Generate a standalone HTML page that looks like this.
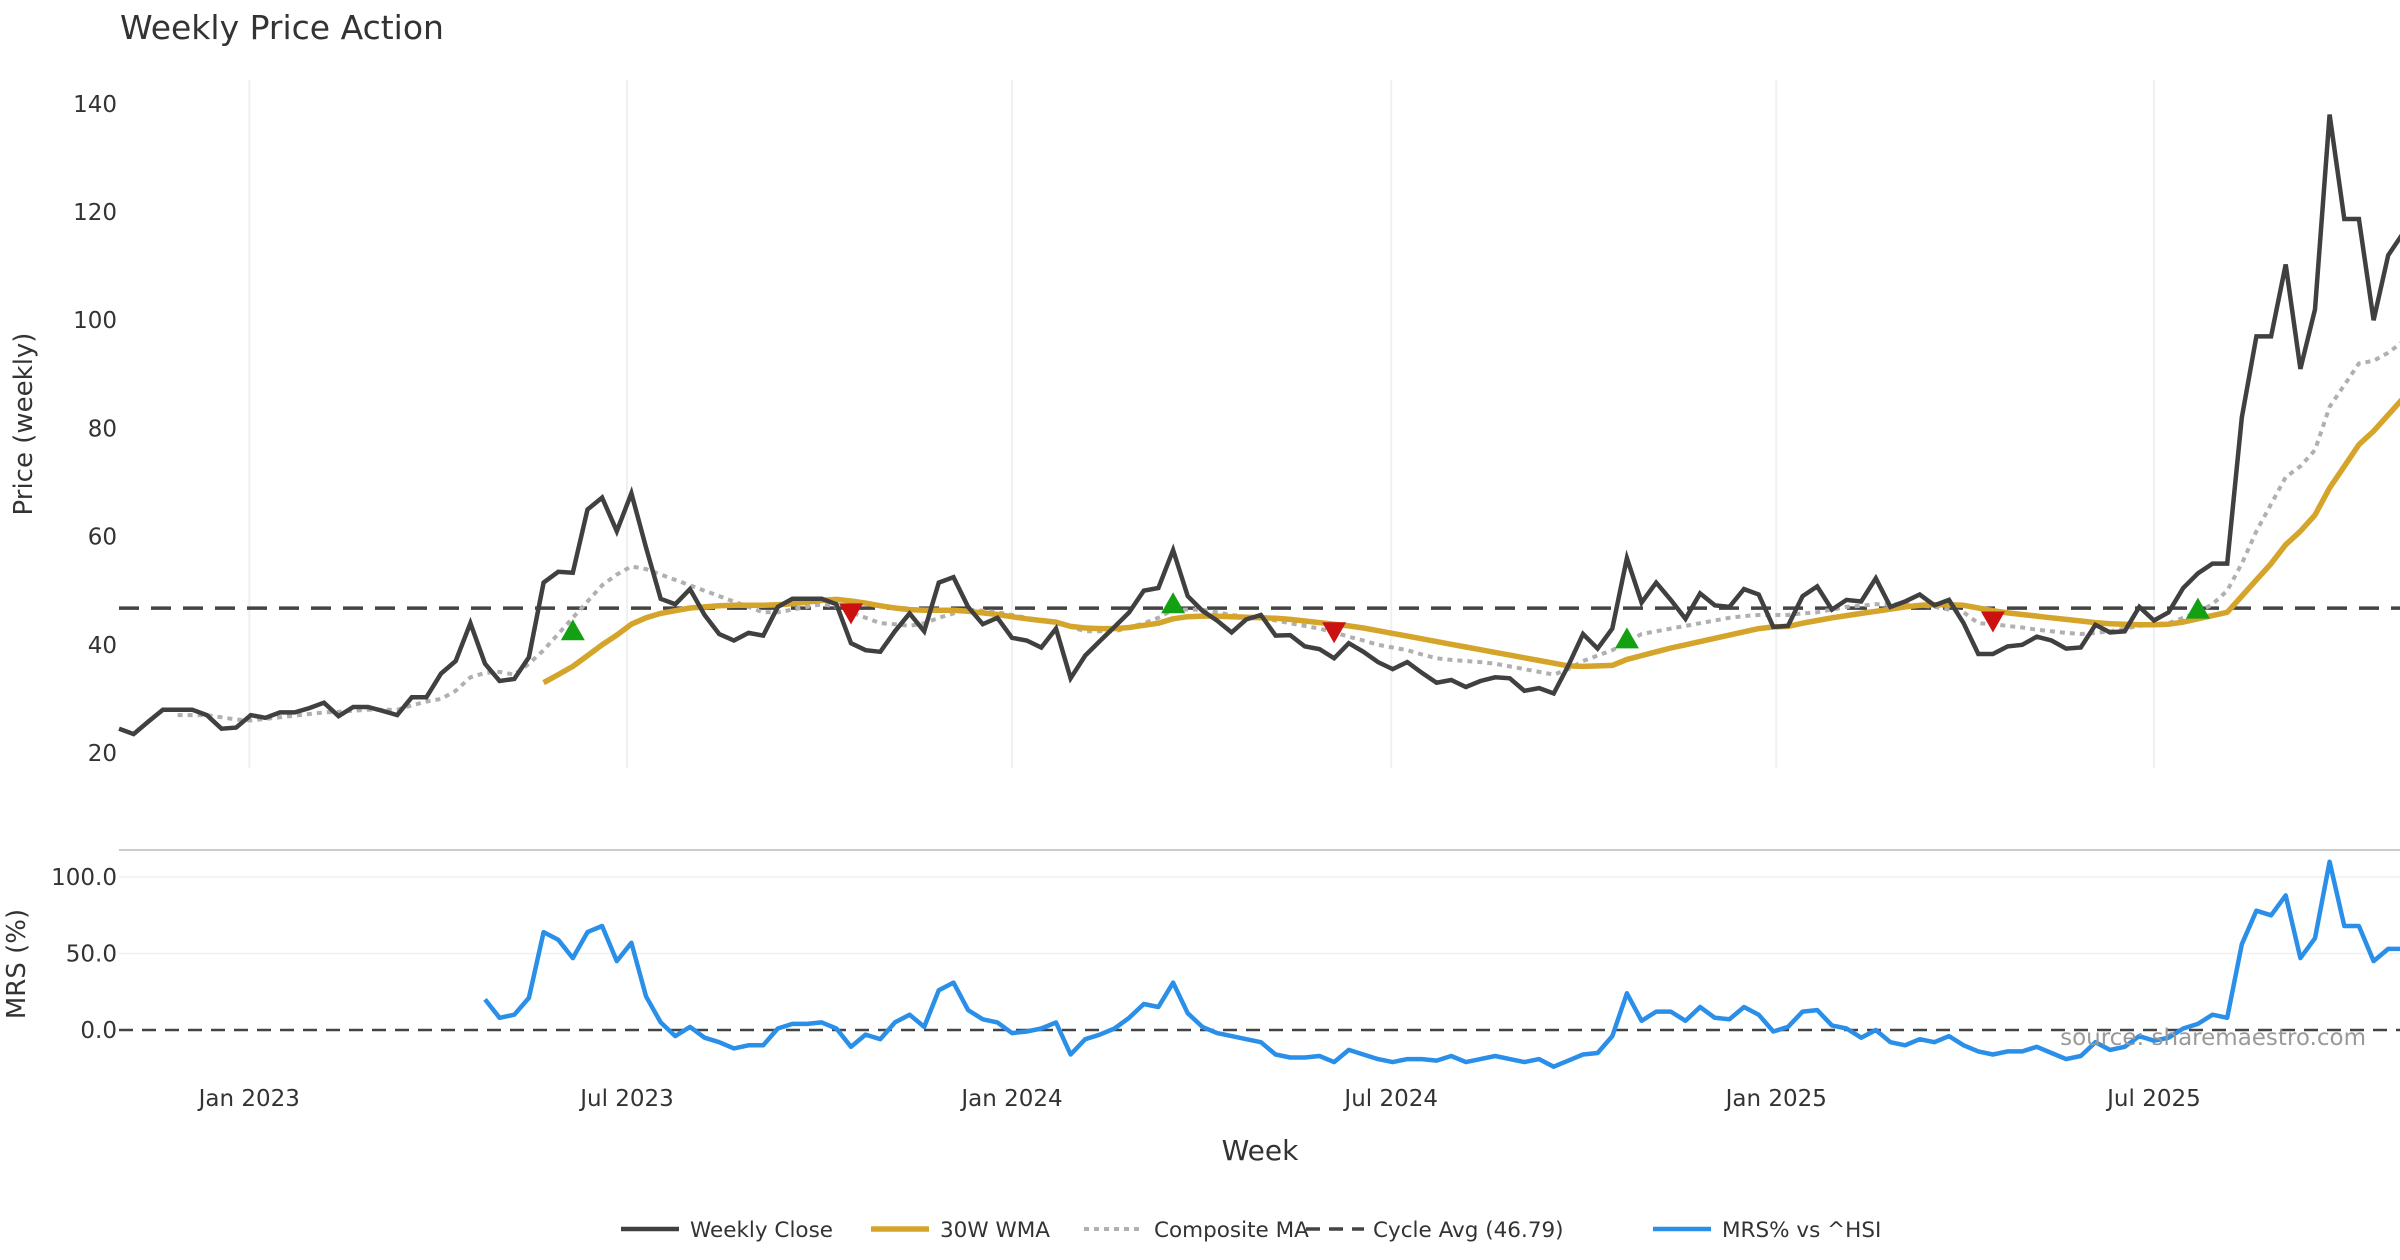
<!DOCTYPE html>
<html><head><meta charset="utf-8"><style>
html,body{margin:0;padding:0;background:#fff;}
svg{display:block;font-family:"DejaVu Sans","Liberation Sans",sans-serif;}
</style></head><body>
<svg id="chart" width="2400" height="1260" viewBox="0 0 2400 1260">
<text x="120" y="39" font-size="33" fill="#333">Weekly Price Action</text>
<g id="grid"></g>
<g id="series"></g>
<g id="axes"></g>
<text transform="translate(32,424) rotate(-90)" text-anchor="middle" font-size="26" fill="#333">Price (weekly)</text>
<text transform="translate(25,964) rotate(-90)" text-anchor="middle" font-size="26" fill="#333">MRS (%)</text>
<text x="1260" y="1160" text-anchor="middle" font-size="28" fill="#333">Week</text>
<text x="2366" y="1045" text-anchor="end" font-size="23" fill="#999">source: sharemaestro.com</text>
<g id="legend"></g>
</svg>
<script>
const closeVals=[24.5,23.5,25.8,28,28,28,27,24.5,24.7,27,26.5,27.5,27.5,28.3,29.3,26.8,28.5,28.5,27.8,27,30.3,30.3,34.7,37,44,36.5,33.3,33.7,37.7,51.5,53.5,53.3,65,67.2,61,68,58,48.5,47.5,50.3,45.5,42,40.8,42.2,41.7,47,48.5,48.5,48.5,47.5,40.3,39,38.7,42.5,45.8,42.5,51.5,52.5,47,43.8,45,41.3,40.8,39.5,43,33.8,38,40.7,43.3,46,50,50.5,57.5,49,46.3,44.5,42.3,44.7,45.5,41.7,41.8,39.7,39.2,37.5,40.3,38.7,36.8,35.5,36.8,34.8,33,33.5,32.2,33.3,34,33.8,31.5,32,31,36.2,42,39.3,43,56,47.8,51.5,48.3,44.8,49.5,47.3,47,50.3,49.3,43.3,43.5,49,50.8,46.5,48.3,48,52.3,47,48,49.3,47.3,48.3,44,38.3,38.3,39.7,40,41.5,40.8,39.3,39.5,43.7,42.3,42.5,47,44.5,46,50.5,53.2,55,55,82,97,97,110.3,91,102,138,118.7,118.7,100,112,116];
const wmaVals=[null,null,null,null,null,null,null,null,null,null,null,null,null,null,null,null,null,null,null,null,null,null,null,null,null,null,null,null,null,33,34.5,36,38,40,41.8,43.8,45,45.8,46.3,46.8,47,47.2,47.3,47.3,47.3,47.4,47.6,47.9,48.2,48.4,48.1,47.7,47.2,46.8,46.5,46.4,46.4,46.4,46.2,45.9,45.6,45.2,44.8,44.5,44.2,43.4,43.1,43,43,43.2,43.6,44,44.8,45.2,45.3,45.3,45.2,45.1,45,44.9,44.7,44.4,44.1,43.8,43.5,43.1,42.6,42.1,41.6,41.1,40.6,40.1,39.6,39.1,38.6,38.1,37.6,37.1,36.6,36.1,36,36.1,36.2,37.3,38,38.7,39.4,40,40.6,41.2,41.8,42.4,43,43.3,43.4,44,44.5,45,45.4,45.8,46.2,46.6,47,47.3,47.4,47.4,47.3,46.8,46.3,45.9,45.6,45.3,45,44.7,44.4,44.1,43.9,43.8,43.7,43.7,43.8,44.2,44.8,45.4,46,49,52,55,58.5,61,64,69,73,77,79.5,82.5,85.5];
const compVals=[null,null,null,null,27,27,27,26.6,26.2,26,26.3,26.6,26.9,27.2,27.5,27.6,27.8,28,28,28,28.8,29.5,30,31.5,34,34.8,35,34.5,36.5,39,42,45,48,51,53,54.5,54,53,52,51,50,49,48,47,46,46,46.5,47,47.5,47,46,45,44,43.8,43.5,44,45,45.8,46.5,46.3,46,45.5,45,44.5,44,43.3,42.5,42.5,42.5,43.2,44,45,46.5,46.5,46.5,46,45.5,45.2,45,44.5,44,43.5,43,42.3,41.5,40.8,40,39.5,39,38.2,37.5,37.2,37,36.8,36.5,36,35.5,35,34.5,35.5,37,38,39,40.5,42,42.5,43,43.5,44,44.5,45,45.3,45.5,45.5,45.5,45.8,46,46.5,47,47.2,47.5,47.5,47.5,47.3,47,46.5,46,44,43.8,43.5,43.2,42.8,42.5,42.2,42,42.2,42.5,43,43.5,43.8,44,45,46,47.5,50,55,61,66,71,73,76,84,88,92,92.5,94,96];
const mrsVals=[null,null,null,null,null,null,null,null,null,null,null,null,null,null,null,null,null,null,null,null,null,null,null,null,null,20,8,10,21,64,59,47,64,68,45,57,22,5,-4,2,-5,-8,-12,-10,-10,1,4,4,5,1,-11,-3,-6,5,10,2,26,31,13,7,5,-2,-1,1,5,-16,-6,-3,1,8,17,15,31,11,2,-2,-4,-6,-8,-16,-18,-18,-17,-21,-13,-16,-19,-21,-19,-19,-20,-17,-21,-19,-17,-19,-21,-19,-24,-20,-16,-15,-4,24,6,12,12,6,15,8,7,15,10,-1,2,12,13,3,1,-5,0,-8,-10,-6,-8,-4,-10,-14,-16,-14,-14,-11,-15,-19,-17,-8,-13,-11,-4,-7,-5,1,4,10,8,56,78,75,88,47,60,110,68,68,45,53,53];
const buyIdx=[31,72,103,142];
const buyVals=[42.5,47.5,41,46.5];
const sellIdx=[50,83,128];
const sellVals=[46,42.5,44.5];
const cycleAvg=46.79;
const priceTicks=[20,40,60,80,100,120,140];
const mrsTicks=[0,50,100];
const mrsTickLabels=["0.0","50.0","100.0"];
const dateTickIdx=[8.9,34.7,61,86.9,113.2,139.0];
const dateTickLabels=["Jan 2023","Jul 2023","Jan 2024","Jul 2024","Jan 2025","Jul 2025"];

const NS="http://www.w3.org/2000/svg";
const X0=119, DX=14.64;
const xS=i=>X0+i*DX;
const yP=v=>753-(v-20)*5.41;
const yM=v=>1030-v*1.53;
function mk(tag,attrs,parent){const e=document.createElementNS(NS,tag);for(const k in attrs)e.setAttribute(k,attrs[k]);parent.appendChild(e);return e;}
const grid=document.getElementById('grid'),series=document.getElementById('series'),axes=document.getElementById('axes'),legend=document.getElementById('legend');

dateTickIdx.forEach((t,k)=>{
  const x=xS(t);
  let l=mk('line',{x1:x,x2:x,y1:80,y2:768,stroke:'#eef0f2','stroke-width':2},grid);
  
  
  let tx=mk('text',{x:x,y:1106,'text-anchor':'middle','font-size':23,fill:'#333'},axes);
  tx.textContent=dateTickLabels[k];
  
  
});
priceTicks.forEach(v=>{
  let tx=mk('text',{x:117,y:yP(v)+8,'text-anchor':'end','font-size':23,fill:'#333'},axes);
  tx.textContent=v;
  
  
});
mrsTicks.forEach((v,k)=>{
  if(v!==0){let l=mk('line',{x1:119,x2:2400,y1:yM(v),y2:yM(v),stroke:'#f0f0f0','stroke-width':1.5},grid);
  
  }
  let tx=mk('text',{x:117,y:yM(v)+8,'text-anchor':'end','font-size':23,fill:'#333'},axes);
  tx.textContent=mrsTickLabels[k];
  
  
});
let sep=mk('line',{x1:119,x2:2400,y1:850,y2:850,stroke:'#ccc','stroke-width':2},grid);



function path(vals,yf){let d='',pen=false;vals.forEach((v,i)=>{if(v===null){pen=false;return;}d+=(pen?'L':'M')+xS(i).toFixed(1)+' '+yf(v).toFixed(1);pen=true;});return d;}

let ca=mk('line',{x1:119,x2:2400,y1:yP(cycleAvg),y2:yP(cycleAvg),stroke:'#444','stroke-width':3.5,'stroke-dasharray':'20 12'},series);


let z=mk('line',{x1:119,x2:2400,y1:yM(0),y2:yM(0),stroke:'#444','stroke-width':2.5,'stroke-dasharray':'14 9'},series);



let cp=mk('path',{d:path(compVals,yP),fill:'none',stroke:'#b0b0b0','stroke-width':4,'stroke-dasharray':'5 5'},series);


let wp=mk('path',{d:path(wmaVals,yP),fill:'none',stroke:'#d4a52a','stroke-width':5.5,'stroke-linejoin':'round'},series);


let clp=mk('path',{d:path(closeVals,yP),fill:'none',stroke:'#404040','stroke-width':4.5,'stroke-linejoin':'miter'},series);


let mp=mk('path',{d:path(mrsVals,yM),fill:'none',stroke:'#2a8fe8','stroke-width':4.5,'stroke-linejoin':'round'},series);



buyIdx.forEach((i,k)=>{const x=xS(i),y=yP(buyVals[k]);
  let t=mk('polygon',{points:`${x-12},${y+9} ${x+12},${y+9} ${x},${y-12}`,fill:'#13a013'},series);
  
  });
sellIdx.forEach((i,k)=>{const x=xS(i),y=yP(sellVals[k]);
  let t=mk('polygon',{points:`${x-12},${y-9} ${x+12},${y-9} ${x},${y+12}`,fill:'#cc1111'},series);
  
  });

const legItems=[
 {x:621,label:'Weekly Close',stroke:'#404040',dash:'',w:4.5,tx:690},
 {x:871,label:'30W WMA',stroke:'#d4a52a',dash:'',w:5.5,tx:940},
 {x:1084,label:'Composite MA',stroke:'#b0b0b0',dash:'5 5',w:4,tx:1154},
 {x:1306,label:'Cycle Avg (46.79)',stroke:'#444',dash:'14 9',w:3.5,tx:1373},
 {x:1653,label:'MRS% vs ^HSI',stroke:'#2a8fe8',dash:'',w:4.5,tx:1722}];
legItems.forEach(it=>{
  const g=mk('g',{},legend);
  
  
  mk('line',{x1:it.x,x2:it.x+58,y1:1229,y2:1229,stroke:it.stroke,'stroke-width':it.w,'stroke-dasharray':it.dash},g);
  const t=mk('text',{x:it.tx,y:1237,'font-size':21.5,fill:'#333'},g);
  t.textContent=it.label;
});
</script>
</body></html>
